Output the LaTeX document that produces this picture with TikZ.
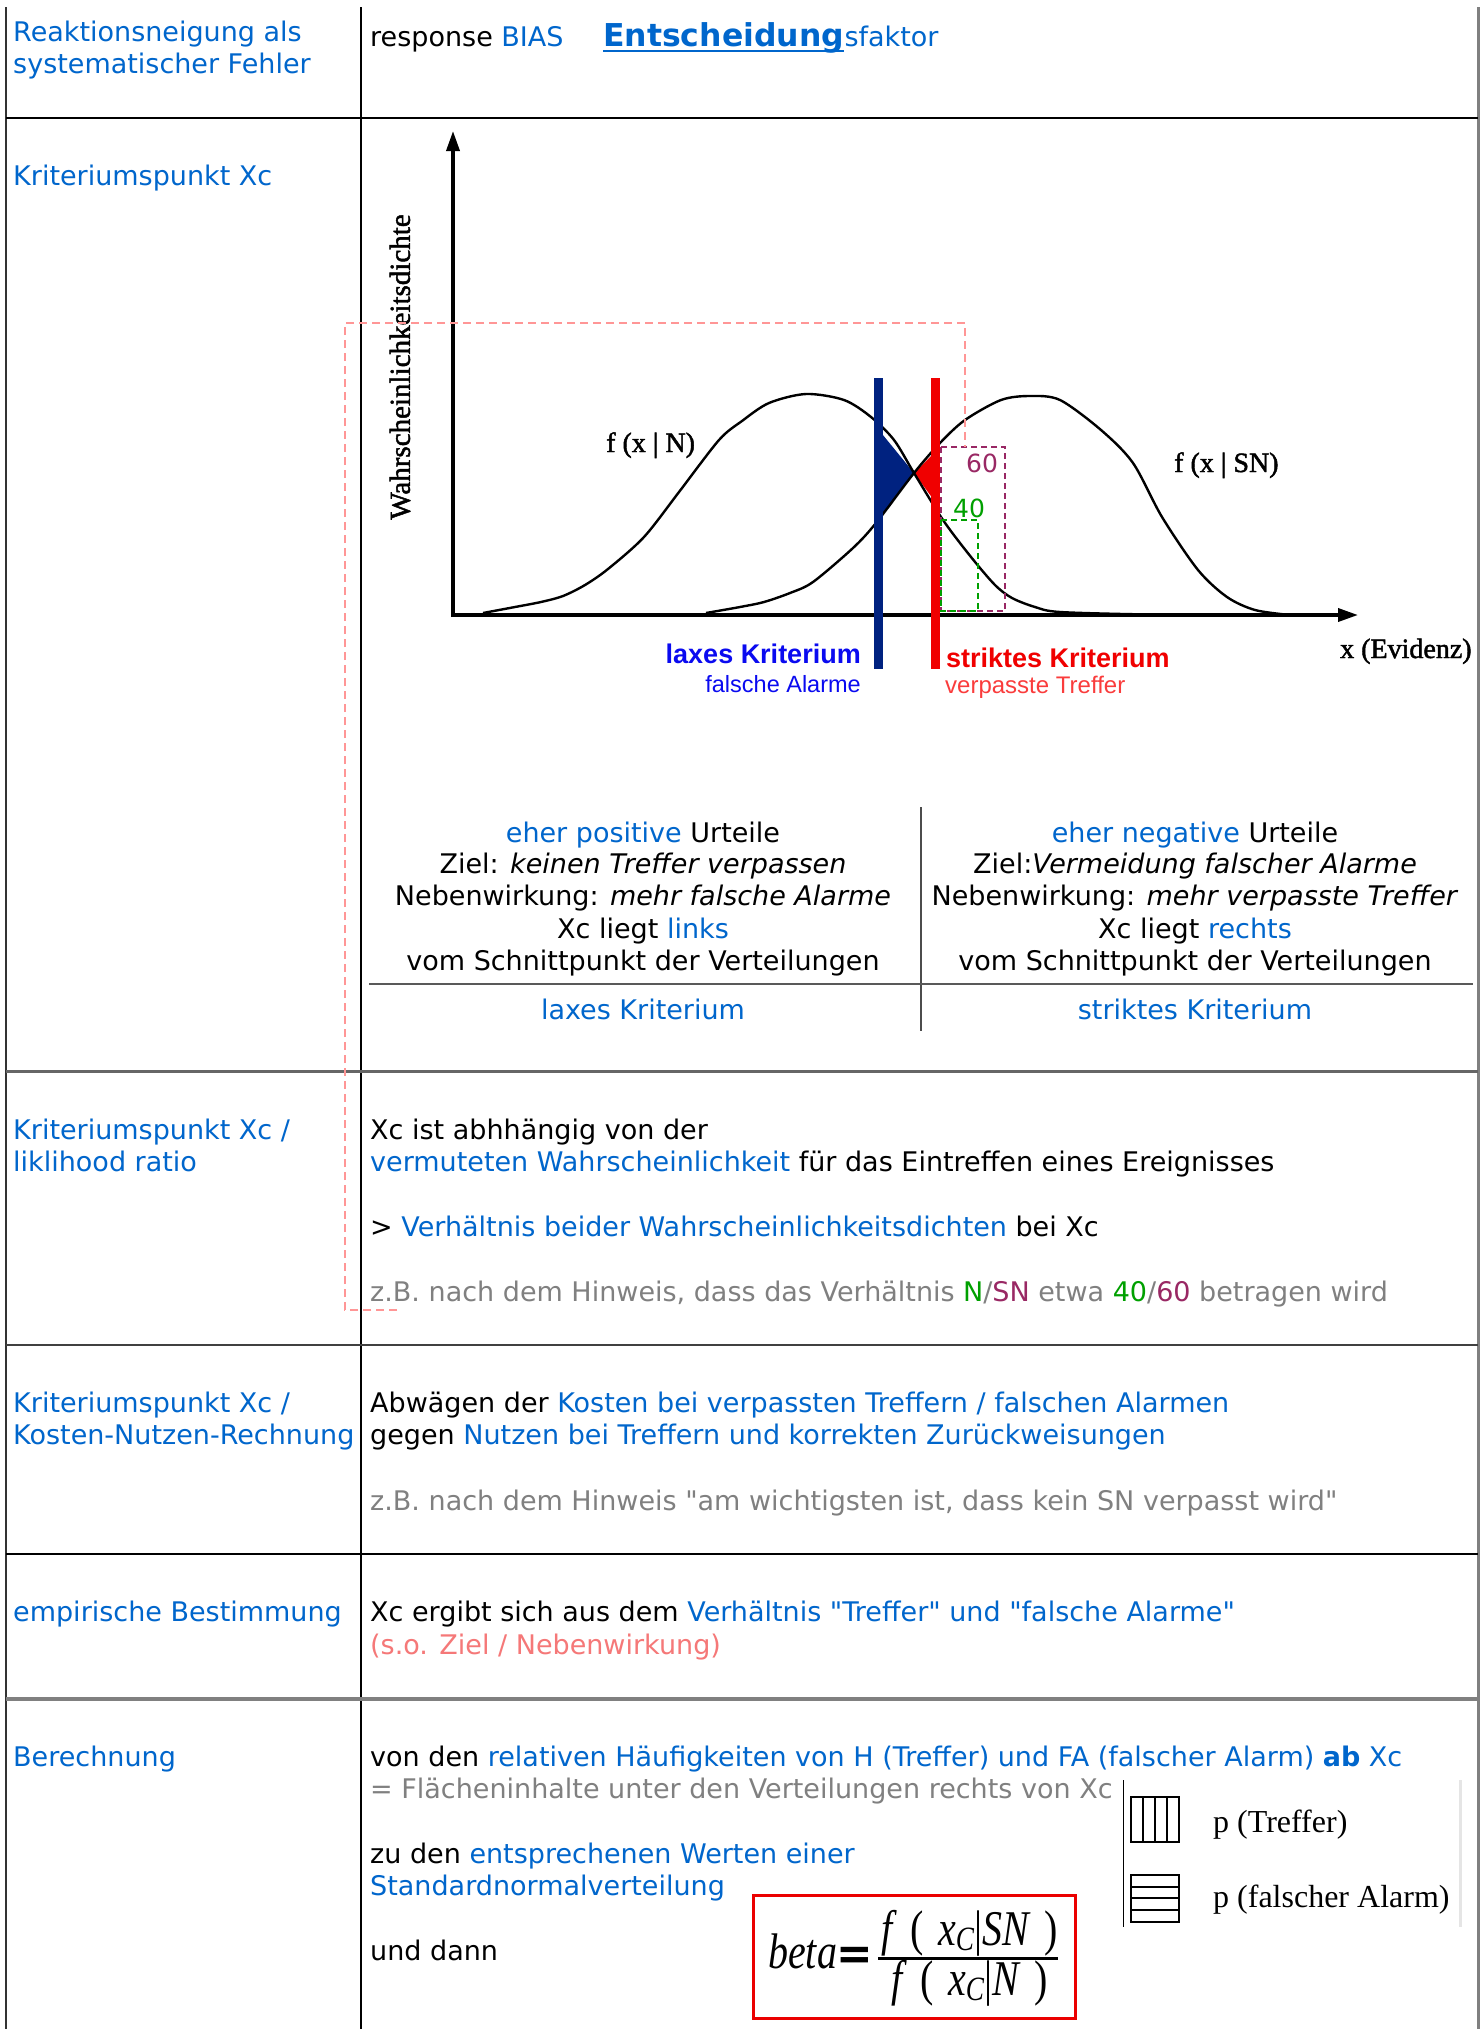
\documentclass[tikz,border=0pt]{standalone}
\usepackage{fontspec}
\setmainfont{DejaVu Sans}[Ligatures=TeXOff]
\newfontfamily\chartserif[FakeBold=1.6]{Liberation Serif}
\newfontfamily\plainserif{Liberation Serif}
\newfontfamily\arialsans{Liberation Sans}
\usetikzlibrary{arrows.meta}
\newcommand\myfs[2]{\fontsize{#1}{#2}\selectfont}
\definecolor{lnk}{RGB}{0,102,204}
\definecolor{gtxt}{RGB}{128,128,128}
\definecolor{grn}{RGB}{0,160,0}
\definecolor{plum}{RGB}{153,40,100}
\definecolor{salmon}{RGB}{245,120,120}
\definecolor{pinkd}{RGB}{255,150,150}
\definecolor{navyb}{RGB}{0,34,128}
\definecolor{pureblue}{RGB}{10,10,240}
\definecolor{rred}{RGB}{240,0,0}
\definecolor{lred}{RGB}{250,60,60}
\definecolor{boxred}{RGB}{235,0,0}
\tikzset{
  txt/.style={anchor=base west, inner sep=0pt, font=\myfs{27}{32}},
  ctr/.style={anchor=base, inner sep=0pt, font=\myfs{27}{32}},
  chartlbl/.style={anchor=base west, inner sep=0pt, font=\chartserif\myfs{28}{28}},
  curve/.style={line width=2.4pt, black},
  axisline/.style={line width=3.5pt, black, -{Triangle[length=20pt,width=13pt]}},
  fml/.style={anchor=base west, inner sep=0pt, font=\plainserif\myfs{50}{50}, xscale=0.8},
}
\begin{document}
\begin{tikzpicture}[x=1pt,y=-1pt]
\useasboundingbox[fill=white] (0,0) rectangle (1482,2029);

% ---------- table grid ----------
\draw[line width=1.5pt, black!80] (6,7) -- (6,2029);
\draw[line width=1.5pt, black] (361,7) -- (361,2029);
\draw[line width=3pt, black!50] (1478,7) -- (1478,2029);
\draw[line width=2pt, black] (6,118) -- (1478,118);
\draw[line width=3pt, black!60] (6,1071) -- (1478,1071);
\draw[line width=2pt, black!75] (6,1345) -- (1478,1345);
\draw[line width=2pt, black] (6,1554) -- (1478,1554);
\draw[line width=4pt, black!50] (6,1699) -- (1478,1699);

% ---------- row 1 ----------
\node[txt, text=lnk] (l1a) at (13,41) {Reaktionsneigung als};
\node[txt, text=lnk] (l1b) at (13,73) {systematischer Fehler};
\node[txt] (r1a) at (370,46) {response \textcolor{lnk}{BIAS}};
\node[txt, text=lnk, font=\myfs{31.5}{36}\bfseries] (ent) at (603,46) {Entscheidung};
\node[txt, text=lnk] (sfk) at (ent.base east) {sfaktor};
\draw[lnk, line width=2.5pt] ([yshift=-5pt]ent.base west) -- ([yshift=-5pt]ent.base east);

% ---------- row 2 ----------
\node[txt, text=lnk] (l2a) at (13,185) {Kriteriumspunkt Xc};

% chart
\fill[navyb] (878,429) -- (914,473) -- (878,520) -- cycle;
\fill[rred] (914,473) -- (936,451) -- (936,503) -- cycle;
\draw[curve] plot[smooth] coordinates {(483,613) (515,607) (541,602) (563,596) (585,585) (608,569) (644,537) (679,492) (719,440) (742,421) (769,403) (806,394) (844,400) (871,417) (894,440) (914,473) (943,520) (971,557) (995,585) (1012,598) (1035,607) (1060,612) (1150,614.5) (1255,615)};
\draw[curve] plot[smooth] coordinates {(706,613) (740,607) (764,602) (790,593) (813,582) (853,548) (876,523) (914,473) (940,443) (965,420) (1001,400) (1030,396) (1060,400) (1101,430) (1133,463) (1162,517) (1198,570) (1227,597) (1255,610) (1290,615)};
\coordinate (orig) at (453,615);
\coordinate (ytip) at (453,131);
\coordinate (xtip) at (1358,615);
\draw[axisline] ([yshift=-2pt]orig) -- (ytip);
\draw[axisline] ([xshift=-2pt]orig) -- (xtip);
\fill[navyb] (874,378) rectangle (883,669);
\fill[rred] (931,378) rectangle (940,669);
\draw[plum, line width=1.5pt, dash pattern=on 6pt off 4pt] (941,447) rectangle (1005,611);
\draw[grn, line width=1.5pt, dash pattern=on 6pt off 4pt] (941,520) rectangle (978,611);
\node[anchor=base, inner sep=0pt, text=plum, font=\myfs{25}{25}] (n60) at (982,472) {60};
\node[anchor=base, inner sep=0pt, text=grn, font=\myfs{25}{25}] (n40) at (969,517) {40};

\node[rotate=90, inner sep=0pt, font=\chartserif\myfs{29}{29}] (ylab) at (400,367) {Wahrscheinlichkeitsdichte};
\node[chartlbl] (fn) at (606,452) {f (x | N)};
\node[chartlbl] (fsn) at (1174,472) {f (x | SN)};
\node[chartlbl] (xev) at (1340,658) {x (Evidenz)};

\node[anchor=base east, inner sep=0pt, text=pureblue, font=\arialsans\bfseries\myfs{27}{27}] (lax) at (861,663) {laxes Kriterium};
\node[anchor=base east, inner sep=0pt, text=pureblue, font=\arialsans\myfs{23.5}{24}] (fal) at (861,692) {falsche Alarme};
\node[anchor=base west, inner sep=0pt, text=rred, font=\arialsans\bfseries\myfs{27}{27}] (strk) at (946,667) {striktes Kriterium};
\node[anchor=base west, inner sep=0pt, text=lred, font=\arialsans\myfs{24}{24}] (vpt) at (945,693) {verpasste Treffer};

% sub-table
\draw[line width=1.5pt, black!70] (921,807) -- (921,1031);
\draw[line width=2pt, black!65] (369,984) -- (1473,984);
\node[ctr] (pl1) at (643,842) {\textcolor{lnk}{eher positive} Urteile};
\node[ctr] (pl2) at (643,873) {Ziel: \textit{keinen Treffer verpassen}};
\node[ctr] (pl3) at (643,905) {Nebenwirkung: \textit{mehr falsche Alarme}};
\node[ctr] (pl4) at (643,938) {Xc liegt \textcolor{lnk}{links}};
\node[ctr] (pl5) at (643,970) {vom Schnittpunkt der Verteilungen};
\node[ctr, text=lnk] (pl6) at (643,1019) {laxes Kriterium};
\node[ctr] (pr1) at (1195,842) {\textcolor{lnk}{eher negative} Urteile};
\node[ctr] (pr2) at (1195,873) {Ziel:\textit{Vermeidung falscher Alarme}};
\node[ctr] (pr3) at (1195,905) {Nebenwirkung: \textit{mehr verpasste Treffer}};
\node[ctr] (pr4) at (1195,938) {Xc liegt \textcolor{lnk}{rechts}};
\node[ctr] (pr5) at (1195,970) {vom Schnittpunkt der Verteilungen};
\node[ctr, text=lnk] (pr6) at (1195,1019) {striktes Kriterium};

% ---------- row 3 ----------
\node[txt, text=lnk] (l3a) at (13,1139) {Kriteriumspunkt Xc /};
\node[txt, text=lnk] (l3b) at (13,1171) {liklihood ratio};
\node[txt] (r3a) at (370,1139) {Xc ist abhhängig von der};
\node[txt] (r3b) at (370,1171) {\textcolor{lnk}{vermuteten Wahrscheinlichkeit} für das Eintreffen eines Ereignisses};
\node[txt] (r3c) at (370,1236) {> \textcolor{lnk}{Verhältnis beider Wahrscheinlichkeitsdichten} bei Xc};
\node[txt, text=gtxt] (r3d) at (370,1301) {z.B. nach dem Hinweis, dass das Verhältnis \textcolor{grn}{N}/\textcolor{plum}{SN} etwa \textcolor{grn}{40}/\textcolor{plum}{60} betragen wird};

% ---------- row 4 ----------
\node[txt, text=lnk] (l4a) at (13,1412) {Kriteriumspunkt Xc /};
\node[txt, text=lnk] (l4b) at (13,1444) {Kosten-Nutzen-Rechnung};
\node[txt] (r4a) at (370,1412) {Abwägen der \textcolor{lnk}{Kosten bei verpassten Treffern / falschen Alarmen}};
\node[txt] (r4b) at (370,1444) {gegen \textcolor{lnk}{Nutzen bei Treffern und korrekten Zurückweisungen}};
\node[txt, text=gtxt] (r4c) at (370,1510) {z.B. nach dem Hinweis "am wichtigsten ist, dass kein SN verpasst wird"};

% ---------- row 5 ----------
\node[txt, text=lnk] (l5a) at (13,1621) {empirische Bestimmung};
\node[txt] (r5a) at (370,1621) {Xc ergibt sich aus dem \textcolor{lnk}{Verhältnis "Treffer" und "falsche Alarme"}};
\node[txt, text=salmon] (r5b) at (370,1654) {(s.o. Ziel / Nebenwirkung)};

% ---------- row 6 ----------
\node[txt, text=lnk] (l6a) at (13,1766) {Berechnung};
\node[txt] (r6a) at (370,1766) {von den \textcolor{lnk}{relativen Häufigkeiten von H (Treffer) und FA (falscher Alarm) \textbf{ab} Xc}};
\node[txt, text=gtxt] (r6b) at (370,1798) {= Flächeninhalte unter den Verteilungen rechts von Xc};
\node[txt] (r6c) at (370,1863) {zu den \textcolor{lnk}{entsprechenen Werten einer}};
\node[txt, text=lnk] (r6d) at (370,1895) {Standardnormalverteilung};
\node[txt] (r6e) at (370,1960) {und dann};

% legend
\draw[line width=1pt] (1123,1780) -- (1123,1927);
\draw[black!10, line width=3pt] (1460,1780) -- (1460,1927);
\draw[line width=2pt] (1131,1797) rectangle (1179,1842);
\foreach \xx in {1143,1155,1167} \draw[line width=1.5pt] (\xx,1797) -- (\xx,1842);
\draw[line width=2pt] (1131,1875) rectangle (1179,1922);
\foreach \yy in {1887,1898,1910} \draw[line width=1.5pt] (1131,\yy) -- (1179,\yy);
\node[anchor=base west, inner sep=0pt, font=\plainserif\myfs{32}{32}] (ptr) at (1213,1832) {p (Treffer)};
\node[anchor=base west, inner sep=0pt, font=\plainserif\myfs{32}{32}] (pfa) at (1213,1907) {p (falscher Alarm)};

% formula
\draw[boxred, line width=3pt] (753,1895) rectangle (1075,2018);
\node[fml] (beta) at (768,1968) {\itshape beta};
\node[anchor=center, inner sep=0pt, font=\bfseries\myfs{46}{46}, xscale=0.95] (eqs) at (855,1958) {=};
\draw[line width=3pt] (878,1958) -- (1058,1958);
\node[fml] (num) at (881,1945) {\textit{f}\hspace{0.35em}(\hspace{0.35em}\textit{x}\raisebox{-5pt}{\myfs{34}{34}\itshape C}|\textit{SN}\hspace{0.35em})};
\node[fml] (den) at (891,1995) {\textit{f}\hspace{0.35em}(\hspace{0.35em}\textit{x}\raisebox{-5pt}{\myfs{34}{34}\itshape C}|\textit{N}\hspace{0.35em})};

% pink dashed frame
\draw[pinkd, line width=1.5pt, dash pattern=on 8pt off 5pt] (397,1310) -- (345,1310) -- (345,323) -- (965,323) -- (965,447);
\end{tikzpicture}
\end{document}
